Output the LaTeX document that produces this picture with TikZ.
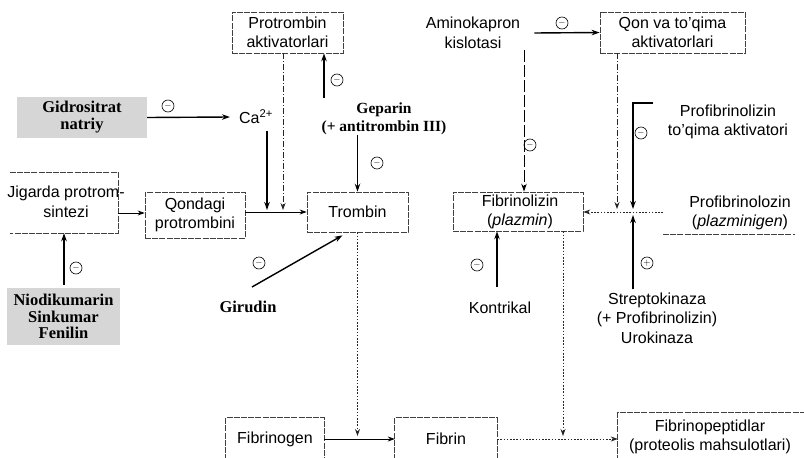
\documentclass[tikz,border=0pt]{standalone}
\usepackage{fontspec}
\setmainfont{Liberation Sans}
\newfontfamily\srf{Liberation Serif}
\usetikzlibrary{arrows.meta,calc}
\tikzset{
  txt/.style={align=center, inner sep=0pt, font=\fontsize{16}{19.5}\selectfont},
  drug/.style={align=center, inner sep=0pt, font=\srf\bfseries\fontsize{16.5}{17}\selectfont},
  halftone/.style={fill=black!16},
  dbox/.style={draw=black!75, line width=0.7pt, dash pattern=on 6pt off 1.2pt},
  boxline/.style={draw=black!75, line width=0.7pt, dash pattern=on 6pt off 1.2pt},
  arr/.style={-{Stealth[length=8pt,width=5.5pt]}, line width=1.4pt},
  tarr/.style={-{Stealth[length=7pt,width=5pt]}, line width=0.8pt},
  dotarr/.style={-{Stealth[length=7pt,width=5pt]}, line width=0.8pt, draw=black!85, dash pattern=on 1.6pt off 1.6pt},
  dasharr/.style={-{Stealth[length=8pt,width=5.5pt]}, line width=1pt, dash pattern=on 12pt off 3pt},
  ddarr/.style={-{Stealth[length=7pt,width=5pt]}, line width=0.8pt, draw=black!85, dash pattern=on 6pt off 2pt on 1pt off 2pt},
  sgn/.style={circle, draw, line width=0.6pt, minimum size=12pt, inner sep=0pt, font=\fontsize{9}{9}\selectfont}
}
\begin{document}
\begin{tikzpicture}[x=1pt,y=-1pt]
\useasboundingbox (0,0) rectangle (804,458);
\fill[white] (0,0) rectangle (804,458);

% ---------- nodes ----------
\node[txt, dbox, minimum width=111pt, minimum height=41pt] (pa) at (287.5,32.5) {Protrombin\\aktivatorlari};
\node[drug, halftone, minimum width=130pt, minimum height=41pt] (gid) at (82,117.5) {Gidrositrat\\natriy};
\node[txt] (ca) at (256,117) {Ca\textsuperscript{2+}};
\node[drug, font=\srf\bfseries\fontsize{15.5}{17.5}\selectfont] (gep) at (384,119) {Geparin\\(+ antitrombin III)};

\node[minimum width=108pt, minimum height=60pt, inner sep=0pt] (jig) at (64,203) {};
\node[txt] (jigt) at (66,202) {Jigarda protrom-\\sintezi};
\node[txt, dbox, minimum width=100pt, minimum height=46pt] (qon) at (195,215) {Qondagi\\protrombini};
\node[txt, dbox, minimum width=101pt, minimum height=40pt] (tr) at (357.5,212) {Trombin};
\node[drug, halftone, minimum width=113pt, minimum height=57pt, font=\srf\bfseries\fontsize{16.5}{16.5}\selectfont] (nio) at (63.5,316.5) {Niodikumarin\\Sinkumar\\Fenilin};
\node[drug] (gir) at (248,307) {Girudin};

\node[txt, minimum width=98pt, minimum height=42pt] (fg) at (275,439) {Fibrinogen};
\node[txt, minimum width=102pt, minimum height=42pt] (fb) at (446,439) {Fibrin};
\node[minimum width=184pt, minimum height=48pt, inner sep=0pt] (fp) at (710,437) {};
\node[txt] (fpt) at (710,437) {Fibrinopeptidlar\\(proteolis mahsulotlari)};

\node[txt] (ami) at (473,33) {Aminokapron\\kislotasi};
\node[txt, dbox, minimum width=145pt, minimum height=41pt] (qva) at (672.5,32.5) {Qon va to'qima\\aktivatorlari};
\node[dbox, minimum width=130pt, minimum height=39pt, inner sep=0pt] (fl) at (518,211.5) {};
\node[txt] (flt) at (520,212) {Fibrinolizin\\(\textit{plazmin})};
\node[txt] (pfa) at (728,122) {Profibrinolizin\\to'qima aktivatori};
\node[txt] (pfz) at (740,213) {Profibrinolozin\\(\textit{plazminigen})};
\node[txt] (kon) at (500,308) {Kontrikal};
\node[txt] (str) at (657,318) {Streptokinaza\\(+ Profibrinolizin)\\Urokinaza};

% partial boxes
\draw[boxline] (jig.north west) -- (jig.north east) -- (jig.south east) -- (jig.south west);
\draw[boxline] (fg.south west) -- (fg.north west) -- (fg.north east) -- (fg.south east);
\draw[boxline] (fb.south west) -- (fb.north west) -- (fb.north east) -- (fb.south east);
\draw[boxline] (fp.south west) -- (fp.north west) -- ($(fp.north east)+(4,0)$);
\draw[boxline] ($(pfz.south)+(-77,4)$) -- ($(pfz.south)+(55,4)$);

% ---------- coordinates ----------
\coordinate (jc) at (267,210);
\coordinate (jp) at (283,210);
\coordinate (jq) at (118,213);
\coordinate (gp) at (324,98);
\coordinate (gs) at (252,287);
\coordinate (jt) at (357.5,436);
\coordinate (jf) at (563,436);
\coordinate (kx) at (497,287);
\coordinate (ax) at (524,50);
\coordinate (jq2) at (617,209);
\coordinate (pb0) at (653,103);
\coordinate (pb) at (633,103);
\coordinate (jb) at (633,209);
\coordinate (js) at (633,215);
\coordinate (jh) at (663,212);
\coordinate (yq) at (0,212);

% ---------- connectors ----------
\draw[arr] (gid.east) -- ($(ca.west)+(-9,0)$);
\draw[arr] ($(ca.south -| jc)+(0,7)$) -- (jc);
\draw[ddarr] (pa.south -| jp) -- (jp);
\draw[tarr] (qon.east |- yq) -- (tr.west |- yq);
\draw[tarr] (jig.east |- jq) -- (qon.west |- jq);
\draw[arr] ($(nio.north)+(0.5,-3)$) -- (jig.south);
\draw[arr] (gp) -- (gp |- pa.south);
\draw[arr] (gep.south -| tr.north) -- (tr.north);
\draw[arr] (gs) -- ($(tr.south)+(-15,3)$);
\draw[dotarr] (tr.south) -- (jt);
\draw[tarr] (fg.east) -- (fb.west);
\draw[dotarr] (fb.east) -- (fp.west |- fb.east);
\draw[dotarr] (fl.south -| jf) -- (jf);
\draw[arr] (kx) -- (kx |- fl.south);
\draw[arr] ($(ami.east)+(14,0)$) -- (qva.west);
\draw[dasharr] (ax) -- (ax |- fl.north);
\draw[ddarr] (qva.south -| jq2) -- (jq2);
\draw[arr] (pb0) -- (pb) -- (jb);
\draw[arr] ($(str.north -| js)+(0,-3)$) -- (js);
\draw[dotarr] (jh) -- (fl.east |- jh);

% ---------- signs ----------
\node[sgn] (m1) at (168,106) {$-$};
\node[sgn] (m2) at (337,80) {$-$};
\node[sgn] (m3) at (377,163) {$-$};
\node[sgn] (m4) at (76,268) {$-$};
\node[sgn] (m5) at (259,263) {$-$};
\node[sgn] (m6) at (562,23) {$-$};
\node[sgn] (m7) at (530,145) {$-$};
\node[sgn] (m8) at (641,133) {$-$};
\node[sgn] (m9) at (647,263) {$+$};
\node[sgn] (m10) at (477,265) {$-$};
\end{tikzpicture}
\end{document}
